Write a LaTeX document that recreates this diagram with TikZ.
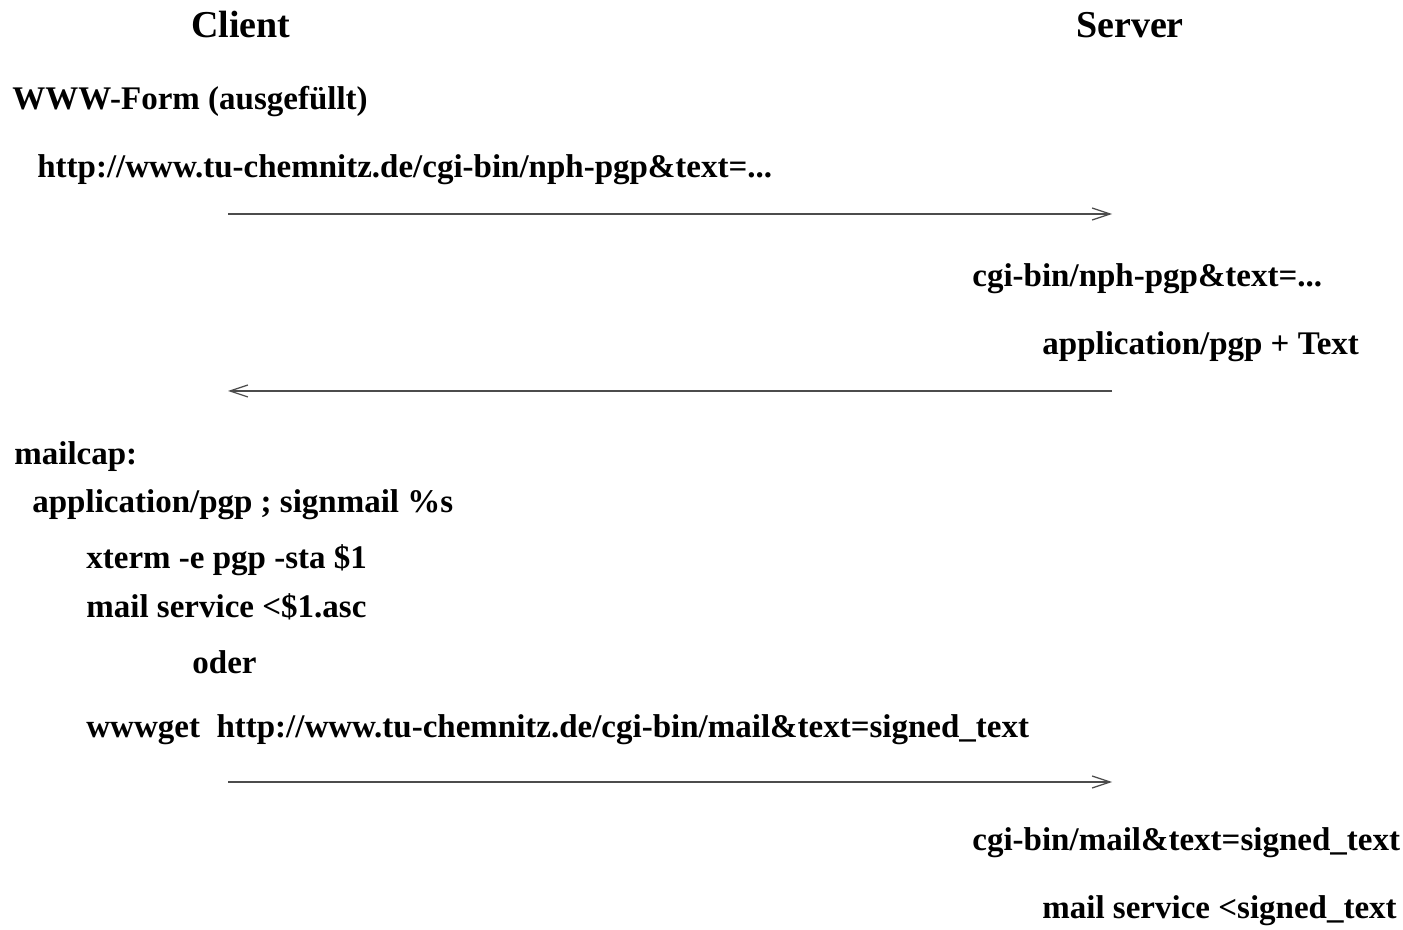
\documentclass[tikz,border=0pt]{standalone}
\usepackage{fontspec}
\setmainfont{Liberation Serif}
\usepackage{tikz}
\usetikzlibrary{arrows.meta}
\tikzset{
  txt/.style={anchor=base west,inner sep=0pt,font=\fontsize{16.5}{18}\selectfont\bfseries},
  head/.style={anchor=base,inner sep=0pt,font=\fontsize{19}{22}\selectfont\bfseries},
  msg/.style={-{Straight Barb[length=9pt,width=6pt]},line width=0.6pt,black!70}
}

\begin{document}
\begin{tikzpicture}[x=0.5pt,y=-0.5pt]
\useasboundingbox (0,0) rectangle (1403,930);
\node[head] (client) at (241,38) {Client};
\node[head] (server) at (1130,38) {Server};
\node[txt] (form) at (12,110) {WWW-Form (ausgefüllt)};
\node[txt] (url) at (37,178) {http://www.tu-chemnitz.de/cgi-bin/nph-pgp\&text=...};
\node[txt] (cgi) at (972,287) {cgi-bin/nph-pgp\&text=...};
\node[txt] (app) at (1042,355) {application/pgp + Text};
\node[txt] (mcap) at (14,465) {mailcap:};
\node[txt] (entry) at (32,512) {application/pgp ; signmail \%s};
\node[txt] (xterm) at (86,568) {xterm -e pgp -sta \$1};
\node[txt] (mail) at (86,617) {mail service <\$1.asc};
\node[txt] (oder) at (192,673) {oder};
\node[txt] (wget) at (86,737) {wwwget\ \ http://www.tu-chemnitz.de/cgi-bin/mail\&text=signed\_text};
\node[txt] (cgimail) at (972,850) {cgi-bin/mail\&text=signed\_text};
\node[txt] (send) at (1042,918) {mail service <signed\_text};
% message arrows
\coordinate (a1) at (228,214);
\coordinate (b1) at (1112,214);
\coordinate (a2) at (228,391);
\coordinate (b2) at (1112,391);
\coordinate (a3) at (228,782);
\coordinate (b3) at (1112,782);
\draw[msg] (a1) -- (b1);
\draw[msg] (b2) -- (a2);
\draw[msg] (a3) -- (b3);
\end{tikzpicture}
\end{document}
